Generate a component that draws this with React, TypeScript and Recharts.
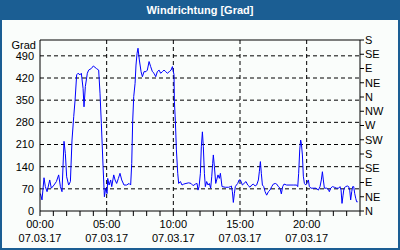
import {
  CartesianGrid,
  Line,
  LineChart,
  ReferenceLine,
  XAxis,
  YAxis,
} from "recharts";

// hours since 00:00 on 07.03.17
const hours = [
  0.03, 0.15, 0.3, 0.4, 0.53, 0.73, 0.85, 1.05, 1.23, 1.4, 1.53, 1.65, 1.8, 1.9,
  2.0, 2.15, 2.28, 2.4, 2.53, 2.63, 2.75, 2.85, 3.0, 3.1, 3.23, 3.3, 3.4, 3.55,
  3.65, 3.85, 4.0, 4.23, 4.4, 4.5, 4.6, 4.73, 4.83, 4.93, 5.03, 5.08, 5.18, 5.3,
  5.38, 5.53, 5.63, 5.75, 5.88, 6.0, 6.13, 6.3, 6.5, 6.68, 6.8, 6.88, 6.95, 7.03,
  7.13, 7.2, 7.28, 7.35, 7.45, 7.58, 7.68, 7.8, 7.95, 8.05, 8.18, 8.3, 8.43,
  8.55, 8.68, 8.8, 8.93, 9.05, 9.18, 9.3, 9.43, 9.55, 9.7, 9.83, 9.93, 10.05,
  10.08, 10.15, 10.23, 10.33, 10.4, 10.53, 10.65, 10.78, 10.95, 11.15, 11.33,
  11.48, 11.65, 11.78, 11.85, 11.93, 12.03, 12.1, 12.18, 12.25, 12.33, 12.4,
  12.5, 12.6, 12.7, 12.8, 12.88, 12.95, 13.0, 13.08, 13.18, 13.25, 13.35, 13.45,
  13.53, 13.65, 13.9, 14.15, 14.28, 14.35, 14.43, 14.5, 14.58, 14.65, 14.73,
  14.83, 14.93, 15.03, 15.18, 15.3, 15.45, 15.58, 15.75, 15.88, 16.0, 16.13,
  16.25, 16.38, 16.45, 16.53, 16.6, 16.68, 16.78, 16.88, 17.0, 17.13, 17.25,
  17.38, 17.5, 17.65, 17.75, 17.88, 18.0, 18.1, 18.2, 18.3, 18.5, 18.75, 19.0,
  19.25, 19.33, 19.4, 19.48, 19.55, 19.6, 19.68, 19.75, 19.83, 19.93, 20.0,
  20.13, 20.2, 20.33, 20.5, 20.7, 20.88, 21.0, 21.1, 21.18, 21.25, 21.33, 21.5,
  21.63, 21.7, 21.8, 21.93, 22.08, 22.25, 22.4, 22.5, 22.58, 22.65, 22.73, 22.8,
  22.93, 23.05, 23.15, 23.23, 23.3, 23.38, 23.45, 23.53, 23.6, 23.68, 23.75,
  23.83,
];

const direction = [
  55, 35, 105, 77, 61, 98, 72, 82, 93, 114, 77, 61, 220, 182, 108, 82, 93, 224,
  298, 350, 430, 435, 430, 435, 387, 329, 393, 435, 445, 450, 458, 450, 445, 372,
  277, 140, 45, 72, 55, 103, 82, 98, 77, 114, 98, 87, 103, 119, 98, 82, 82, 87,
  82, 150, 282, 361, 403, 461, 498, 514, 477, 440, 424, 440, 440, 445, 472, 456,
  440, 435, 424, 440, 445, 435, 440, 445, 440, 435, 440, 445, 456, 430, 345, 287,
  193, 119, 87, 93, 82, 85, 87, 89, 87, 80, 85, 87, 66, 77, 119, 203, 250, 203,
  119, 77, 93, 82, 87, 72, 108, 150, 177, 140, 87, 98, 114, 103, 119, 77, 75, 75,
  77, 79, 61, 27, 56, 77, 82, 87, 98, 98, 82, 87, 93, 82, 75, 82, 85, 79, 82, 98,
  124, 156, 119, 82, 77, 61, 50, 61, 66, 77, 85, 87, 85, 77, 72, 54, 77, 85, 82,
  82, 82, 82, 77, 119, 193, 224, 214, 177, 110, 87, 82, 87, 98, 77, 72, 72, 72,
  66, 77, 98, 124, 98, 72, 72, 68, 61, 72, 77, 75, 72, 72, 77, 66, 24, 50, 72, 77,
  79, 77, 66, 35, 61, 77, 77, 56, 40, 29, 29,
];

const hourTicks = Array.from({ length: 25 }, (_, i) => i);
const gradTicks = [0, 70, 140, 210, 280, 350, 420, 490];
const compassTicks = [0, 45, 90, 135, 180, 225, 270, 315, 360, 405, 450, 495, 540];
const compassNames = ["N", "NE", "E", "SE", "S", "SW", "W", "NW", "N", "NE", "E", "SE", "S"];
const dateLabel = "07.03.17";

const data = hours.map((h, i) => ({ h, v: direction[i] }));

const FONT = "'Liberation Sans', Arial, sans-serif";

const TimeTick = (props: any) => {
  const { x, y, payload } = props;
  if (payload.value % 5 !== 0) return null;
  const hh = String(payload.value).padStart(2, "0") + ":00";
  return (
    <g>
      <text x={x} y={y + 10} textAnchor="middle" fontSize={11} fontFamily={FONT} fill="#000">
        {hh}
      </text>
      <text x={x} y={y + 24} textAnchor="middle" fontSize={11} fontFamily={FONT} fill="#000">
        {dateLabel}
      </text>
    </g>
  );
};

export default function App() {
  return (
    <div
      style={{
        position: "absolute",
        left: 0,
        top: 0,
        width: 400,
        height: 250,
        background: "#1b5e93",
        fontFamily: FONT,
      }}
    >
      <div
        style={{
          position: "absolute",
          left: 0,
          top: 0,
          width: 400,
          height: 20,
          lineHeight: "20px",
          textAlign: "center",
          color: "#fff",
          fontWeight: "bold",
          fontSize: 11,
        }}
      >
        Windrichtung [Grad]
      </div>
      <div
        style={{
          position: "absolute",
          left: 2,
          top: 20,
          width: 396,
          height: 228,
          background: "#fafdfb",
        }}
      >
        <div
          style={{
            position: "absolute",
            right: 396 - 34,
            top: 19,
            fontSize: 11,
            color: "#000",
            lineHeight: "13px",
          }}
        >
          Grad
        </div>
        <LineChart
          width={396}
          height={228}
          data={data}
          margin={{ top: 20, right: 0, bottom: 0, left: 0 }}
        >
          <CartesianGrid
            yAxisId="left"
            stroke="#000"
            strokeDasharray="4 3"
            horizontalValues={gradTicks.slice(1)}
            verticalValues={[5, 10, 15, 20]}
          />
          <XAxis
            dataKey="h"
            type="number"
            domain={[0, 24]}
            ticks={hourTicks}
            interval={0}
            height={37}
            tickSize={5}
            tickMargin={2}
            stroke="#000"
            tick={<TimeTick />}
          />
          <YAxis
            yAxisId="left"
            domain={[0, 540]}
            ticks={gradTicks}
            interval={0}
            width={38}
            tickLine={false}
            tickSize={4}
            tickMargin={2}
            stroke="#000"
            tick={{ fill: "#000", fontSize: 11, fontFamily: FONT }}
          />
          <YAxis
            yAxisId="right"
            orientation="right"
            domain={[0, 540]}
            ticks={compassTicks}
            interval={0}
            width={38}
            tickSize={4}
            tickMargin={1}
            stroke="#000"
            tickFormatter={(v: number) => compassNames[compassTicks.indexOf(v)]}
            tick={{ fill: "#000", fontSize: 11, fontFamily: FONT }}
          />
          <ReferenceLine yAxisId="left" y={540} stroke="#000" />
          <Line
            yAxisId="right"
            type="linear"
            dataKey="v"
            stroke="none"
            dot={false}
            activeDot={false}
            isAnimationActive={false}
          />
          <Line
            yAxisId="left"
            type="linear"
            dataKey="v"
            stroke="#0000ff"
            strokeWidth={1}
            dot={false}
            isAnimationActive={false}
          />
        </LineChart>
      </div>
    </div>
  );
}
